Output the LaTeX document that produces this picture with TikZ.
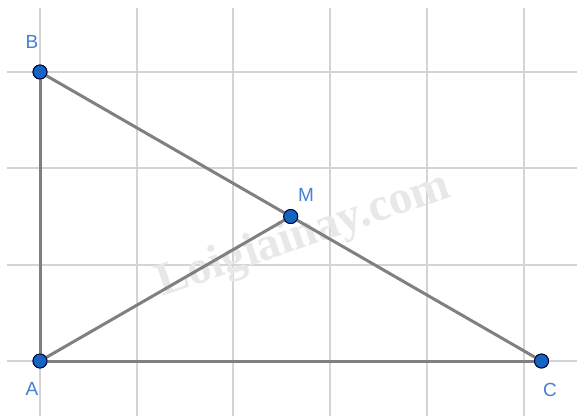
\documentclass[tikz,border=0pt]{standalone}
\usepackage{fontspec}
\setmainfont{Liberation Sans}
\newfontfamily\wmfont{Liberation Serif}
\definecolor{gridgray}{RGB}{212,212,212}
\definecolor{seggray}{RGB}{128,128,128}
\definecolor{ptblue}{RGB}{21,101,192}
\definecolor{lblblue}{RGB}{68,128,212}
\definecolor{wmgray}{RGB}{232,232,232}
\begin{document}
\begin{tikzpicture}[x=1pt,y=-1pt,
  gridline/.style={draw=gridgray,line width=1.4pt},
  seg/.style={draw=seggray,line width=3pt},
  pt/.style={circle,fill=ptblue,draw=black!80!blue,line width=0.9pt,minimum size=14pt,inner sep=0pt},
  lbl/.style={text=lblblue,font=\fontsize{19}{19}\selectfont,inner sep=0pt}]
\useasboundingbox (0,0) rectangle (577,416);
\fill[white] (0,0) rectangle (577,416);
% grid
\foreach \x in {40,137,233,330,427,524} \draw[gridline] (\x,8) -- (\x,416);
\foreach \y in {72,168,265,361} \draw[gridline] (7,\y) -- (577,\y);
% watermark
\node[text=wmgray,font=\wmfont\bfseries\fontsize{47}{47}\selectfont,rotate=19] (wm) at (304,236) {Loigiainay.com};
% points
\node[pt] (B) at (40,72) {};
\node[pt] (A) at (40,361) {};
\node[pt] (C) at (541.5,361) {};
\node[pt] (M) at (290.7,216.5) {};
% segments
\draw[seg] (A.center) -- (B.center);
\draw[seg] (B.center) -- (C.center);
\draw[seg] (A.center) -- (C.center);
\draw[seg] (A.center) -- (M.center);
% redraw points on top
\node[pt] at (B) {};
\node[pt] at (A) {};
\node[pt] at (C) {};
\node[pt] at (M) {};
% labels
\node[lbl] (lB) at (32,42) {B};
\node[lbl] (lA) at (32,389) {A};
\node[lbl] (lC) at (550,390) {C};
\node[lbl] (lM) at (306,195) {M};
\end{tikzpicture}
\end{document}
